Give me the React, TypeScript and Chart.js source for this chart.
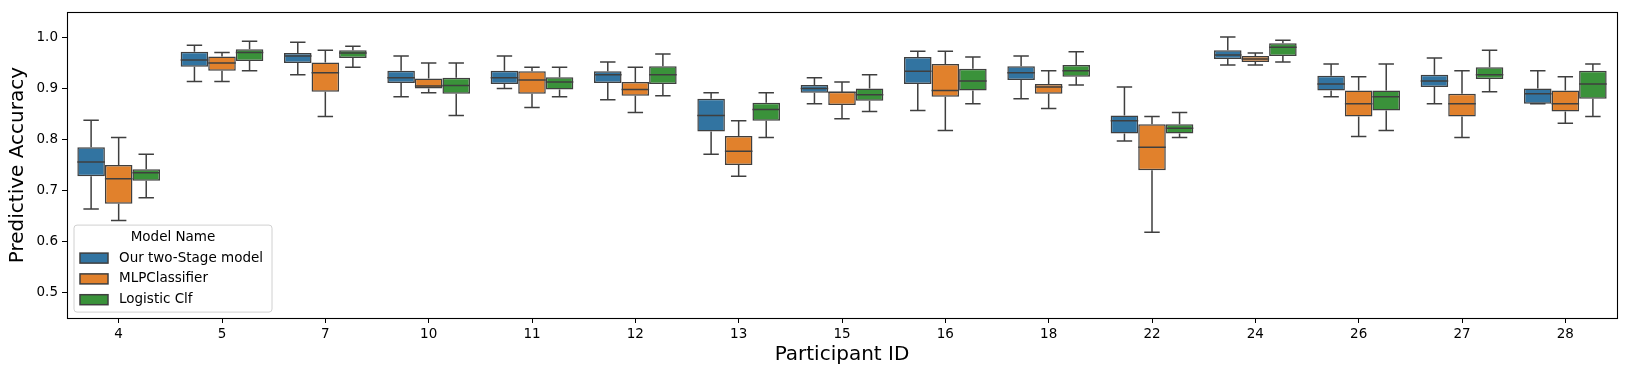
import React, { useEffect, useRef } from "react";
import { Chart, registerables } from "chart.js";

Chart.register(...registerables);

const participants = ["4", "5", "7", "10", "11", "12", "13", "15", "16", "18", "22", "24", "26", "27", "28"];
const modelNames = ["Our two-Stage model", "MLPClassifier", "Logistic Clf"];
const modelColors = ["#3274a1", "#e1812c", "#3a923a"];
const yTickValues = [0.5, 0.6, 0.7, 0.8, 0.9, 1.0];

// [whiskerLow, q1, median, q3, whiskerHigh] per participant
const twoStage = [
  [0.664, 0.728, 0.756, 0.785, 0.838],
  [0.914, 0.943, 0.956, 0.972, 0.985],
  [0.927, 0.950, 0.964, 0.970, 0.991],
  [0.884, 0.911, 0.921, 0.935, 0.964],
  [0.900, 0.909, 0.921, 0.935, 0.964],
  [0.878, 0.911, 0.927, 0.934, 0.952],
  [0.771, 0.816, 0.847, 0.880, 0.892],
  [0.870, 0.892, 0.900, 0.907, 0.921],
  [0.857, 0.909, 0.934, 0.962, 0.973],
  [0.880, 0.917, 0.931, 0.944, 0.964],
  [0.797, 0.812, 0.837, 0.847, 0.903],
  [0.946, 0.958, 0.966, 0.975, 1.001],
  [0.884, 0.896, 0.909, 0.925, 0.948],
  [0.870, 0.903, 0.915, 0.927, 0.960],
  [0.870, 0.870, 0.890, 0.900, 0.935],
];
const mlp = [
  [0.641, 0.674, 0.723, 0.750, 0.804],
  [0.914, 0.935, 0.950, 0.963, 0.971],
  [0.845, 0.894, 0.931, 0.951, 0.975],
  [0.892, 0.900, 0.905, 0.920, 0.950],
  [0.863, 0.890, 0.917, 0.934, 0.942],
  [0.853, 0.886, 0.898, 0.913, 0.942],
  [0.728, 0.750, 0.777, 0.807, 0.837],
  [0.841, 0.868, 0.893, 0.894, 0.913],
  [0.818, 0.884, 0.896, 0.948, 0.973],
  [0.861, 0.890, 0.903, 0.909, 0.935],
  [0.618, 0.740, 0.785, 0.830, 0.845],
  [0.946, 0.952, 0.958, 0.964, 0.970],
  [0.806, 0.845, 0.870, 0.896, 0.923],
  [0.804, 0.845, 0.870, 0.890, 0.935],
  [0.832, 0.855, 0.870, 0.896, 0.923],
];
const logistic = [
  [0.686, 0.719, 0.735, 0.742, 0.771],
  [0.935, 0.954, 0.971, 0.977, 0.993],
  [0.942, 0.960, 0.970, 0.975, 0.983],
  [0.847, 0.890, 0.906, 0.921, 0.950],
  [0.884, 0.898, 0.913, 0.922, 0.942],
  [0.886, 0.909, 0.927, 0.944, 0.968],
  [0.804, 0.837, 0.859, 0.872, 0.892],
  [0.855, 0.876, 0.888, 0.900, 0.927],
  [0.870, 0.896, 0.915, 0.939, 0.962],
  [0.907, 0.923, 0.935, 0.946, 0.972],
  [0.804, 0.812, 0.822, 0.830, 0.853],
  [0.952, 0.964, 0.981, 0.989, 0.995],
  [0.818, 0.857, 0.884, 0.896, 0.948],
  [0.894, 0.919, 0.927, 0.942, 0.975],
  [0.845, 0.880, 0.909, 0.935, 0.948],
];
const seriesStats = [twoStage, mlp, logistic];

const LINE = "#3f3f3f";
const FONT = "'DejaVu Sans', sans-serif";

const boxPlugin = {
  id: "boxExtras",
  afterDatasetsDraw(chart: any) {
    const ctx = chart.ctx;
    const y = chart.scales.y;
    ctx.save();
    ctx.strokeStyle = LINE;
    ctx.lineWidth = 1.5;
    ctx.lineCap = "butt";
    chart.data.datasets.forEach((ds: any, di: number) => {
      const meta = chart.getDatasetMeta(di);
      meta.data.forEach((el: any, j: number) => {
        const s = ds.stats[j];
        const x = el.x;
        const w = el.width;
        const pLow = y.getPixelForValue(s[0]);
        const pQ1 = y.getPixelForValue(s[1]);
        const pMed = y.getPixelForValue(s[2]);
        const pQ3 = y.getPixelForValue(s[3]);
        const pHigh = y.getPixelForValue(s[4]);
        const cw = w * 0.28;
        ctx.beginPath();
        // whiskers
        ctx.moveTo(x, pQ3);
        ctx.lineTo(x, pHigh);
        ctx.moveTo(x, pQ1);
        ctx.lineTo(x, pLow);
        // caps
        ctx.moveTo(x - cw, pHigh);
        ctx.lineTo(x + cw, pHigh);
        ctx.moveTo(x - cw, pLow);
        ctx.lineTo(x + cw, pLow);
        // median
        ctx.moveTo(x - w / 2, pMed);
        ctx.lineTo(x + w / 2, pMed);
        ctx.stroke();
      });
    });
    // frame
    const a = chart.chartArea;
    ctx.strokeStyle = "#000";
    ctx.lineWidth = 1.1;
    ctx.strokeRect(Math.round(a.left) + 0.5, Math.round(a.top) + 0.5, Math.round(a.right - a.left), Math.round(a.bottom - a.top));

    // legend
    const lx = a.left + 7;
    const ly = a.top + 213;
    const lw = 198;
    const lh = 87;
    ctx.fillStyle = "rgba(255,255,255,0.8)";
    ctx.strokeStyle = "#d0d0d0";
    ctx.lineWidth = 1;
    ctx.beginPath();
    const r = 3;
    ctx.moveTo(lx + r, ly);
    ctx.lineTo(lx + lw - r, ly);
    ctx.quadraticCurveTo(lx + lw, ly, lx + lw, ly + r);
    ctx.lineTo(lx + lw, ly + lh - r);
    ctx.quadraticCurveTo(lx + lw, ly + lh, lx + lw - r, ly + lh);
    ctx.lineTo(lx + r, ly + lh);
    ctx.quadraticCurveTo(lx, ly + lh, lx, ly + lh - r);
    ctx.lineTo(lx, ly + r);
    ctx.quadraticCurveTo(lx, ly, lx + r, ly);
    ctx.closePath();
    ctx.fill();
    ctx.stroke();
    ctx.font = `13.5px ${FONT}`;
    ctx.textBaseline = "middle";
    ctx.textAlign = "center";
    ctx.fillStyle = "#000";
    ctx.fillText("Model Name", lx + lw / 2, ly + 12);
    ctx.textAlign = "left";
    modelNames.forEach((name, i) => {
      const cy = ly + 33 + i * 20.8;
      ctx.fillStyle = modelColors[i];
      ctx.fillRect(lx + 6, cy - 5, 28, 10);
      ctx.strokeStyle = LINE;
      ctx.lineWidth = 1.5;
      ctx.strokeRect(lx + 6, cy - 5, 28, 10);
      ctx.fillStyle = "#000";
      ctx.fillText(name, lx + 45, cy);
    });
    ctx.restore();
  },
};

export default function App() {
  const ref = useRef<HTMLCanvasElement>(null);
  useEffect(() => {
    document.body.style.margin = "0";
    const datasets = seriesStats.map((stats, i) => ({
      label: modelNames[i],
      data: stats.map((s) => [s[1], s[3]]),
      stats,
      backgroundColor: modelColors[i],
      borderColor: LINE,
      borderWidth: 1.5,
      borderSkipped: false,
      barPercentage: 1.0,
      categoryPercentage: 0.8,
    }));
    const chart = new Chart(ref.current as HTMLCanvasElement, {
      type: "bar",
      data: { labels: participants, datasets: datasets as any },
      plugins: [boxPlugin],
      options: {
        animation: false,
        responsive: false,
        events: [],
        layout: { padding: { left: 0, right: 10, top: 10, bottom: 0 } },
        plugins: { legend: { display: false }, tooltip: { enabled: false } },
        scales: {
          x: {
            type: "category",
            offset: true,
            grid: { display: true, drawOnChartArea: false, drawTicks: true, tickLength: 5, color: "#000", offset: false },
            border: { display: false },
            ticks: { color: "#000", font: { family: FONT, size: 13.5 }, padding: 3, maxRotation: 0 },
            title: { display: true, text: "Participant ID", color: "#000", font: { family: FONT, size: 20 }, padding: { top: 0, bottom: 10 } },
            afterFit(scale: any) {
              scale.height = 59;
            },
          },
          y: {
            type: "linear",
            min: 0.45,
            max: 1.05,
            grid: { display: true, drawOnChartArea: false, drawTicks: true, tickLength: 5, color: "#000" },
            border: { display: false },
            ticks: {
              color: "#000",
              font: { family: FONT, size: 13.5 },
              padding: 4,
              callback: (v: any) => Number(v).toFixed(1),
            },
            afterBuildTicks(scale: any) {
              scale.ticks = yTickValues.map((v) => ({ value: v }));
            },
            title: { display: true, text: "Predictive Accuracy", color: "#000", font: { family: FONT, size: 20 }, padding: { top: 6, bottom: 0 } },
            afterFit(scale: any) {
              scale.width = 67;
            },
          },
        },
      },
    });
    return () => chart.destroy();
  }, []);
  return (
    <div style={{ width: 1627, height: 377, position: "relative" }}>
      <canvas ref={ref} width={1627} height={377} style={{ width: 1627, height: 377, display: "block" }} />
    </div>
  );
}
